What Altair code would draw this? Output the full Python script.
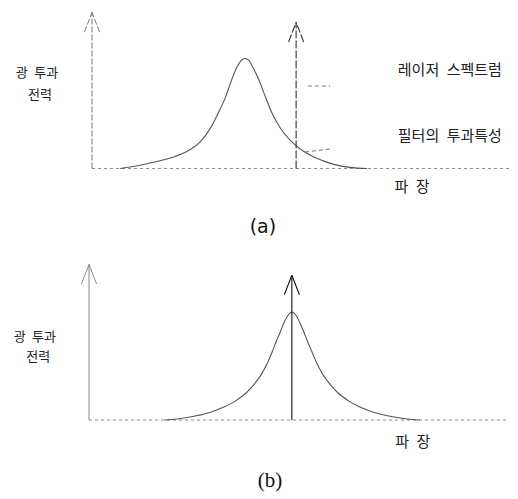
import altair as alt
import pandas as pd

# ---- data (wavelength units: y-axis = 0, end of axis = 100;
#      power normalised so that the filter peak = 1) ----
# Panel (a): filter transmission curve, laser line off the filter peak
a_curve_x = [6.7, 11.4, 16.2, 19.8, 23.3, 25.7, 28.1, 30.0, 31.7, 33.1, 34.5, 35.5, 36.4,
             37.4, 38.3, 39.8, 41.2, 42.9, 44.8, 47.1, 49.5, 53.1, 57.4, 61.4, 65.5]
a_curve_y = [0.00, 0.03, 0.07, 0.11, 0.17, 0.24, 0.36, 0.50, 0.64, 0.79, 0.92, 0.98, 1.00,
             0.98, 0.92, 0.80, 0.66, 0.50, 0.37, 0.26, 0.18, 0.10, 0.04, 0.01, 0.00]
a_laser_x = 48.6
a_laser_top = 1.33
a_axis_top = 1.42

# Panel (b): filter tuned to the laser line
b_curve_x = [17.9, 21.0, 25.0, 28.8, 32.1, 35.0, 37.4, 39.3, 41.0, 42.4, 43.6, 44.5, 45.5,
             46.4, 47.4, 48.3, 49.3, 50.2, 51.2, 52.1, 53.1, 54.3, 55.7, 57.4, 59.3, 61.7,
             64.5, 67.9, 71.7, 75.7, 78.8]
b_curve_y = [0.00, 0.01, 0.035, 0.07, 0.12, 0.18, 0.25, 0.33, 0.42, 0.52, 0.63, 0.72, 0.81,
             0.90, 0.97, 1.00, 0.97, 0.90, 0.81, 0.72, 0.63, 0.52, 0.42, 0.33, 0.25, 0.18,
             0.12, 0.07, 0.035, 0.01, 0.00]
b_laser_x = 48.3
b_laser_top = 1.34
b_axis_top = 1.44

axis_end = 100

SP = "\u2002"  # wide (en) space, as the original labels are widely spaced

# labels: text, x, y
a_left = [("광" + SP + "투과", -13.1, 0.87), ("전력", -12.4, 0.67)]
a_right = [("레이저" + SP + "스펙트럼", 85.2, 0.90), ("필터의" + SP + "투과특성", 85.2, 0.30),
           ("파" + SP + "장", 76.2, -0.17)]
a_caption = ("(a)", 40.7, -0.53)
a_leaders = [(51.4, 0.75, 56.7, 0.75), (50.7, 0.15, 57.4, 0.18)]

b_left = [("광" + SP + "투과", -12.9, 0.77), ("전력", -12.1, 0.58)]
b_right = [("파" + SP + "장", 77.1, -0.20)]
b_caption = ("(b)", 43.1, -0.56)
b_leaders = []

HW, HH = 1.8, 0.18  # arrowhead half-width / height (data units)


def arrow_head(tx, ty):
    return [dict(x=tx - HW, y=ty - HH, x2=tx, y2=ty),
            dict(x=tx + HW, y=ty - HH, x2=tx, y2=ty)]


def panel(cx, cy, lx, ltop, atop, left, right, caption, leaders, xdom, ydom, w, h,
          axis_dash, axis_color, laser_dash, laser_color, cap_font, cap_size):
    X = lambda f: alt.X(f, type="quantitative", scale=alt.Scale(domain=xdom, nice=False, zero=False), axis=None)
    Y = lambda f: alt.Y(f, type="quantitative", scale=alt.Scale(domain=ydom, nice=False, zero=False), axis=None)

    curve = pd.DataFrame({"x": cx, "y": cy})
    base_df = pd.DataFrame([dict(x=0, y=0, x2=axis_end, y2=0)])
    yaxis_df = pd.DataFrame([dict(x=0, y=0, x2=0, y2=atop)] + arrow_head(0, atop))
    laser_df = pd.DataFrame([dict(x=lx, y=0, x2=lx, y2=ltop)] + arrow_head(lx, ltop))
    left_df = pd.DataFrame(left, columns=["t", "x", "y"])
    right_df = pd.DataFrame(right, columns=["t", "x", "y"])
    cap_df = pd.DataFrame([caption], columns=["t", "x", "y"])

    def seg(df, color, dash, sw):
        kw = dict(color=color, strokeWidth=sw)
        if dash:
            kw["strokeDash"] = dash
        return alt.Chart(df).mark_rule(**kw).encode(
            x=X("x"), y=Y("y"), x2=alt.X2("x2"), y2=alt.Y2("y2"))

    def txt(df, font, size, color):
        return alt.Chart(df).mark_text(font=font, fontSize=size, color=color,
                                       align="center", baseline="middle").encode(
            x=X("x"), y=Y("y"), text="t:N")

    layers = [
        seg(base_df, "#8a8a8a", [3, 3], 1),
        seg(yaxis_df, axis_color, axis_dash, 1),
        alt.Chart(curve).mark_line(color="#555555", strokeWidth=1.1,
                                   interpolate="monotone").encode(x=X("x"), y=Y("y")),
        seg(laser_df, laser_color, laser_dash, 1.1),
        txt(left_df, "Noto Sans CJK KR", 13, "#222222"),
        txt(right_df, "Noto Sans CJK KR", 15, "#222222"),
        txt(cap_df, cap_font, cap_size, "#111111"),
    ]
    if leaders:
        ld = pd.DataFrame(leaders, columns=["x", "y", "x2", "y2"])
        layers.append(seg(ld, "#777777", [4, 3], 1))
    return alt.layer(*layers).properties(width=w, height=h)


pa = panel(a_curve_x, a_curve_y, a_laser_x, a_laser_top, a_axis_top, a_left, a_right,
           a_caption, a_leaders, [-21.905, 101.43], [-0.741, 1.532], 518, 250,
           [6, 2], "#777777", [8, 2], "#333333", "DejaVu Sans", 19)
pb = panel(b_curve_x, b_curve_y, b_laser_x, b_laser_top, b_axis_top, b_left, b_right,
           b_caption, b_leaders, [-21.19, 102.14], [-0.731, 1.574], 518, 249,
           None, "#888888", None, "#111111", "Liberation Serif", 21)

chart = alt.vconcat(pa, pb, spacing=0).properties(padding=0).configure_view(stroke=None)
chart.save("out.html", embed_options={"renderer": "svg", "actions": False})
